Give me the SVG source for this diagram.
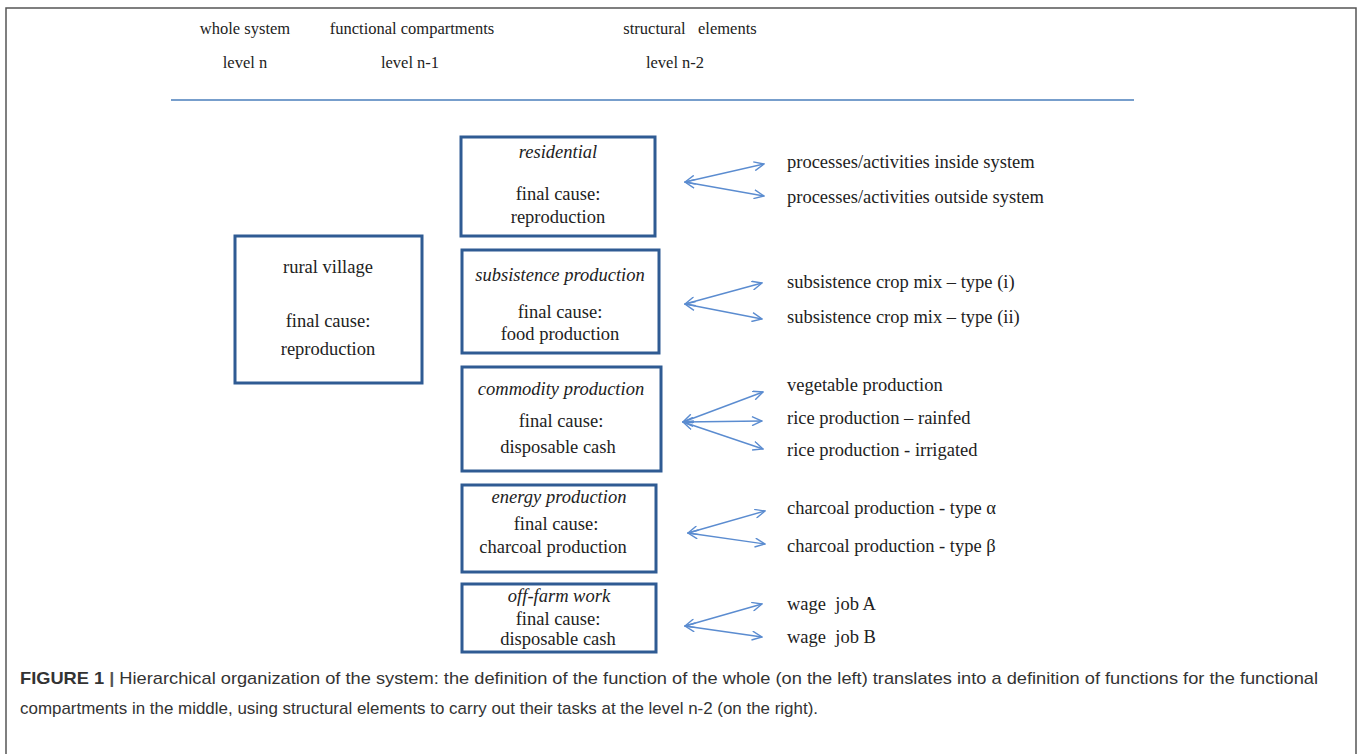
<svg xmlns="http://www.w3.org/2000/svg" width="1358" height="754" viewBox="0 0 1358 754">
<style>
.hd{font-family:"Liberation Serif","Times New Roman",serif;font-size:16.5px;fill:#222;text-anchor:middle}
.bx{fill:#fff;stroke:#2f5b93;stroke-width:3}
.bt{font-family:"Liberation Serif","Times New Roman",serif;font-size:18.5px;fill:#222;text-anchor:middle}
.it{font-style:italic}
.lb{font-family:"Liberation Serif","Times New Roman",serif;font-size:18.5px;fill:#222}
.cn line{stroke:#5b8cd0;stroke-width:1.4;fill:none;marker-start:url(#ah);marker-end:url(#ah)}
.cap{font-family:"Liberation Sans",Arial,sans-serif;font-size:17px;fill:#333}
</style>
<defs>
<marker id="ah" viewBox="0 0 12 10" refX="11" refY="5" markerWidth="12" markerHeight="10" markerUnits="userSpaceOnUse" orient="auto-start-reverse">
<path d="M1,0.5 L11,5 L1,9.5" fill="none" stroke="#5b8cd0" stroke-width="1.4"/>
</marker>
</defs>
<rect x="0" y="0" width="1358" height="754" fill="#fff"/>
<rect x="6" y="8" width="1350" height="760" fill="none" stroke="#555" stroke-width="1.5"/>
<g id="header">
<text class="hd" x="245" y="34">whole system</text>
<text class="hd" x="245" y="68">level n</text>
<text class="hd" x="412" y="34">functional compartments</text>
<text class="hd" x="410" y="68">level n-1</text>
<text class="hd" x="690" y="34" xml:space="preserve">structural   elements</text>
<text class="hd" x="675" y="68">level n-2</text>
<line x1="171" y1="100" x2="1134" y2="100" stroke="#4a7ebb" stroke-width="1.5"/>
</g>
<g id="rural-village">
<rect class="bx" x="235" y="236" width="187" height="147"/>
<text class="bt" x="328" y="273">rural village</text>
<text class="bt" x="328" y="327">final cause:</text>
<text class="bt" x="328" y="355">reproduction</text>
</g>
<g id="residential">
<rect class="bx" x="461" y="137" width="194" height="99"/>
<text class="bt it" x="558" y="158">residential</text>
<text class="bt" x="558" y="200">final cause:</text>
<text class="bt" x="558" y="223">reproduction</text>
</g>
<g id="subsistence">
<rect class="bx" x="462" y="250" width="197" height="103"/>
<text class="bt it" x="560" y="281">subsistence production</text>
<text class="bt" x="560" y="318">final cause:</text>
<text class="bt" x="560" y="340">food production</text>
</g>
<g id="commodity">
<rect class="bx" x="462" y="367" width="199" height="104"/>
<text class="bt it" x="561" y="395">commodity production</text>
<text class="bt" x="561" y="427">final cause:</text>
<text class="bt" x="558" y="453">disposable cash</text>
</g>
<g id="energy">
<rect class="bx" x="462" y="485" width="194" height="87"/>
<text class="bt it" x="559" y="503">energy production</text>
<text class="bt" x="556" y="530">final cause:</text>
<text class="bt" x="553" y="553">charcoal production</text>
</g>
<g id="off-farm">
<rect class="bx" x="462" y="584" width="194" height="68"/>
<text class="bt it" x="559" y="602">off-farm work</text>
<text class="bt" x="558" y="625">final cause:</text>
<text class="bt" x="558" y="645">disposable cash</text>
</g>
<g id="elements">
<text class="lb" x="787" y="168">processes/activities inside system</text>
<text class="lb" x="787" y="203">processes/activities outside system</text>
<text class="lb" x="787" y="288">subsistence crop mix – type (i)</text>
<text class="lb" x="787" y="323">subsistence crop mix – type (ii)</text>
<text class="lb" x="787" y="391">vegetable production</text>
<text class="lb" x="787" y="424">rice production – rainfed</text>
<text class="lb" x="787" y="456">rice production - irrigated</text>
<text class="lb" x="787" y="514">charcoal production - type α</text>
<text class="lb" x="787" y="552">charcoal production - type β</text>
<text class="lb" x="787" y="610" xml:space="preserve">wage  job A</text>
<text class="lb" x="787" y="643" xml:space="preserve">wage  job B</text>
</g>
<g id="connectors" class="cn">
<line x1="685" y1="182" x2="764" y2="164"/>
<line x1="685" y1="182" x2="764" y2="196"/>
<line x1="685" y1="304" x2="762" y2="283"/>
<line x1="685" y1="304" x2="762" y2="319"/>
<line x1="683" y1="422" x2="763" y2="392"/>
<line x1="683" y1="422" x2="762" y2="421"/>
<line x1="683" y1="422" x2="763" y2="449"/>
<line x1="688" y1="533" x2="765" y2="511"/>
<line x1="688" y1="533" x2="765" y2="544"/>
<line x1="685" y1="626" x2="762" y2="604"/>
<line x1="685" y1="626" x2="762" y2="637"/>
</g>
<g id="caption">
<text class="cap" x="20" y="684" textLength="1298" lengthAdjust="spacingAndGlyphs"><tspan font-weight="bold">FIGURE 1</tspan><tspan font-weight="bold" fill="#555"> | </tspan>Hierarchical organization of the system: the definition of the function of the whole (on the left) translates into a definition of functions for the functional</text>
<text class="cap" x="20" y="714" textLength="798" lengthAdjust="spacingAndGlyphs">compartments in the middle, using structural elements to carry out their tasks at the level n-2 (on the right).</text>
</g>
</svg>
